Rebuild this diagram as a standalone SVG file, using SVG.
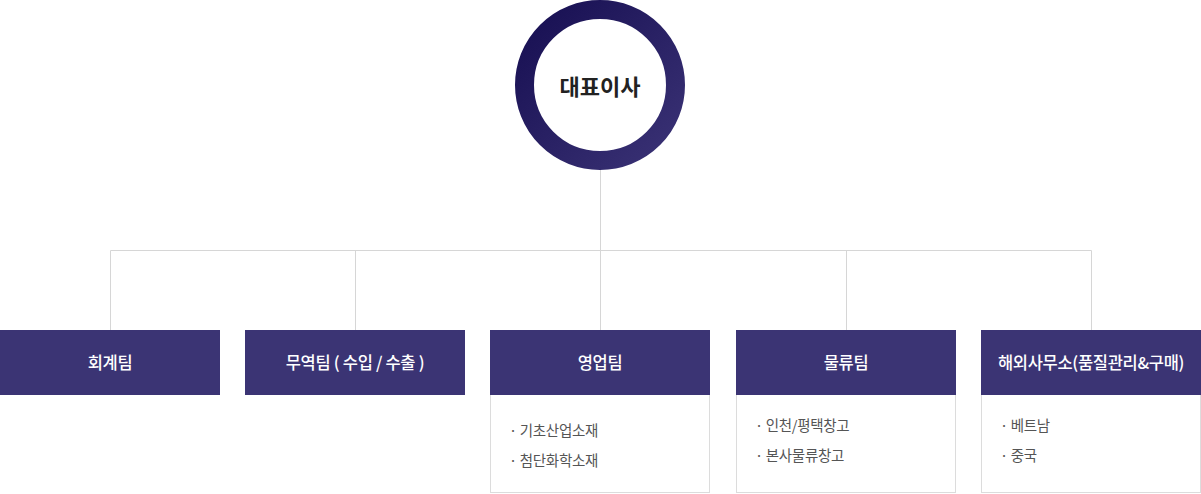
<svg xmlns="http://www.w3.org/2000/svg" width="1201" height="494" viewBox="0 0 1201 494">
<defs>
<linearGradient id="ring" x1="0" y1="0" x2="1" y2="1">
<stop offset="0" stop-color="#170f52"/>
<stop offset="1" stop-color="#3a3275"/>
</linearGradient>
<style>
.conn{stroke:#d6d6d6;stroke-width:1;fill:none}
.head{fill:#3b3474}
.sub{fill:#fff;stroke:#dcdcdc;stroke-width:1}
.ht{font-family:"Noto Sans CJK KR","Noto Sans",sans-serif;font-size:16.5px;font-weight:500;fill:#fff;text-anchor:middle;dominant-baseline:central;letter-spacing:-0.3px}
.lt{font-family:"Noto Sans CJK KR","Noto Sans",sans-serif;font-size:14.5px;fill:#555;dominant-baseline:central;letter-spacing:-0.3px}
.ct{font-family:"Noto Sans CJK KR","Noto Sans",sans-serif;font-size:22px;font-weight:700;fill:#222;text-anchor:middle;dominant-baseline:central}
</style>
</defs>
<g id="connectors">
<path class="conn" d="M600.5 170V250.5M110.5 330V250.5H1091.5V330M355.5 250.5V330M600.5 250.5V330M846.5 250.5V330"/>
</g>
<g id="ceo">
<circle cx="600" cy="85" r="75.5" fill="#fff" stroke="url(#ring)" stroke-width="19"/>
<text class="ct" x="600" y="85">대표이사</text>
</g>
<g id="accounting">
<rect class="head" x="0" y="330" width="220" height="65"/>
<text class="ht" x="110" y="362">회계팀</text>
</g>
<g id="trade">
<rect class="head" x="245" y="330" width="220" height="65"/>
<text class="ht" x="355" y="362">무역팀 ( 수입 / 수출 )</text>
</g>
<g id="sales">
<rect class="sub" x="490.5" y="394.5" width="219" height="98"/>
<rect class="head" x="490" y="330" width="220" height="65"/>
<text class="ht" x="600" y="362">영업팀</text>
<text class="lt" x="509" y="429">· 기초산업소재</text>
<text class="lt" x="509" y="459">· 첨단화학소재</text>
</g>
<g id="logistics">
<rect class="sub" x="736.5" y="394.5" width="219" height="98"/>
<rect class="head" x="736" y="330" width="220" height="65"/>
<text class="ht" x="846" y="362">물류팀</text>
<text class="lt" x="755" y="424">· 인천/평택창고</text>
<text class="lt" x="755" y="454">· 본사물류창고</text>
</g>
<g id="overseas">
<rect class="sub" x="981.5" y="394.5" width="219" height="98"/>
<rect class="head" x="981" y="330" width="220" height="65"/>
<text class="ht" x="1091" y="362">해외사무소(품질관리&amp;구매)</text>
<text class="lt" x="1000" y="424">· 베트남</text>
<text class="lt" x="1000" y="454">· 중국</text>
</g>
</svg>
